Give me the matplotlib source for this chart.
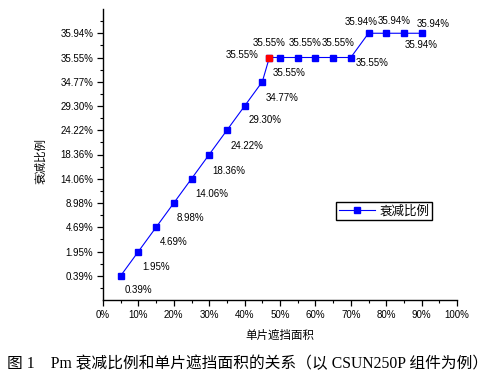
import numpy as np
import matplotlib
matplotlib.use("Agg")
import matplotlib.pyplot as plt
from matplotlib.lines import Line2D
from matplotlib.ticker import FixedLocator, FixedFormatter

# ---- data ----
x_pct = [5, 10, 15, 20, 25, 30, 35, 40, 45, 50, 55, 60, 65, 70, 75, 80, 85, 90]
y_val = [0.39, 1.95, 4.69, 8.98, 14.06, 18.36, 24.22, 29.30, 34.77,
         35.55, 35.55, 35.55, 35.55, 35.55, 35.94, 35.94, 35.94, 35.94]
red_x = 47
red_y = 35.55
y_levels = [0.39, 1.95, 4.69, 8.98, 14.06, 18.36, 24.22, 29.30, 34.77, 35.55, 35.94]
x_ticks = [0, 10, 20, 30, 40, 50, 60, 70, 80, 90, 100]
series_name = "衰减比例"
x_title = "单片遮挡面积"
y_title = "衰减比例"
caption = "图 1    Pm 衰减比例和单片遮挡面积的关系（以 CSUN250P 组件为例）"

# ---- style ----
LAT = "Liberation Sans"
CJK = ["Noto Sans CJK SC", "DejaVu Sans"]
plt.rcParams["font.family"] = [LAT, "Noto Sans CJK SC"]

fig = plt.figure(figsize=(4.96, 3.84), dpi=100)
ax = fig.add_axes([103/496, 1 - 300/384, (457 - 103)/496, (300 - 9)/384])

# equal-spaced value scale (as in the original Origin plot)
knots = np.array([0.0] + y_levels + [36.33])
pos = np.arange(len(knots), dtype=float)
fwd = lambda v: np.interp(v, knots, pos)
inv = lambda p: np.interp(p, pos, knots)
ax.set_yscale("function", functions=(fwd, inv))
ax.set_ylim(knots[0], knots[-1])
ax.set_xlim(0, 100)

ax.yaxis.set_major_locator(FixedLocator(y_levels))
ax.yaxis.set_major_formatter(FixedFormatter([f"{v:.2f}%" for v in y_levels]))
ax.yaxis.set_minor_locator(FixedLocator(list(inv(np.arange(0.5, 12, 1.0)))))
ax.xaxis.set_major_locator(FixedLocator(x_ticks))
ax.xaxis.set_major_formatter(FixedFormatter([f"{t}%" for t in x_ticks]))
ax.xaxis.set_minor_locator(FixedLocator(list(np.arange(5, 100, 10))))

for s in ["top", "right"]:
    ax.spines[s].set_visible(False)
for s in ["left", "bottom"]:
    ax.spines[s].set_linewidth(1.0)
ax.tick_params(which="major", length=4, width=0.9, labelsize=7, pad=3, direction="out")
ax.tick_params(which="minor", length=2.5, width=0.8, direction="out")

# merge red point into line order
xs = x_pct[:9] + [red_x] + x_pct[9:]
ys = y_val[:9] + [red_y] + y_val[9:]
ax.plot(xs, ys, color="#0000ff", lw=0.8, marker="s", ms=4.8,
        mfc="#0000ff", mec="#0000ff", zorder=3)
ax.plot([red_x], [red_y], ls="none", marker="s", ms=4.8, mfc="#ff0000",
        mec="#ff0000", zorder=4)

# label offsets (pixels, y down) for each point in xs order
offs = [(18, 14.5), (18, 15), (17.5, 15), (17, 15), (20, 15), (20, 16), (20, 16),
        (20, 14), (20, 16), (0, -15), (9, 16), (7, -14), (23, -14), (-91, -3),
        (21, 5), (-7, -11), (8, -12), (17, 12), (12, -9)]
for x, y, (dx, dy) in zip(xs, ys, offs):
    ax.annotate(f"{y:.2f}%", (x, y), xytext=(dx, -dy), textcoords="offset pixels",
                ha="center", va="center", fontsize=7, family=LAT, zorder=5)

ax.set_xlabel(x_title, family=CJK, fontsize=8.3, labelpad=7)
ax.set_ylabel(y_title, family=CJK, fontsize=8.3)
ax.yaxis.set_label_coords(-0.158, 0.478)

h = Line2D([], [], color="#0000ff", lw=0.8, marker="s", ms=4.8,
           mfc="#0000ff", mec="#0000ff")
leg = ax.legend([h], [series_name], loc="upper left",
                bbox_to_anchor=(336/496, 1 - 202/384), bbox_transform=fig.transFigure,
                prop={"family": CJK, "size": 9}, frameon=True, fancybox=False,
                framealpha=1, edgecolor="black", borderpad=0.2, handlelength=2.9,
                handletextpad=0.4, borderaxespad=0)
leg.get_frame().set_linewidth(1.0)

fig.text(0.5, 1 - 364/384, caption, ha="center", va="center",
         family=["Liberation Serif", "Noto Sans CJK SC"], fontsize=11.3)

fig.savefig("out.png", dpi=100)
